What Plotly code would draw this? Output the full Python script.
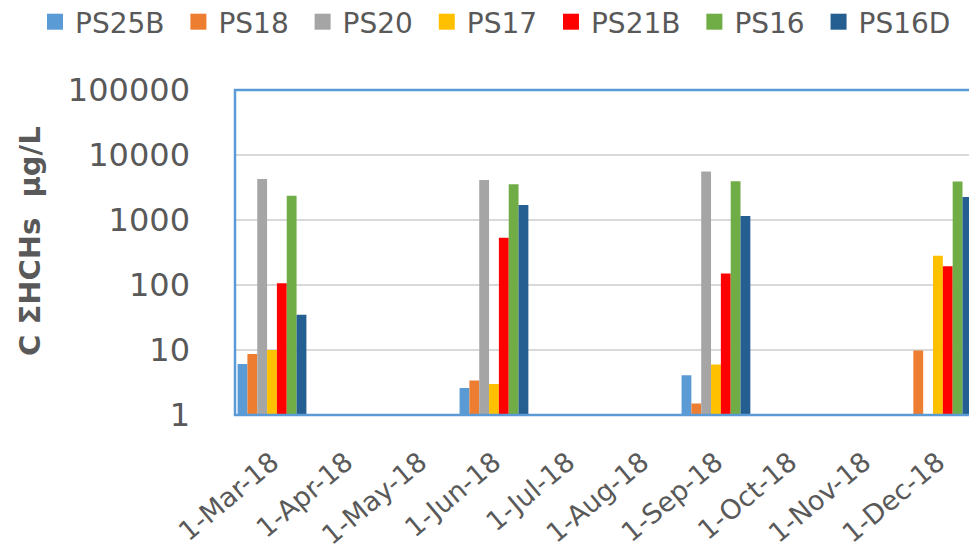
import plotly.graph_objects as go

# Sampling months (one category slot per month)
months = ["1-Mar-18", "1-Apr-18", "1-May-18", "1-Jun-18", "1-Jul-18",
          "1-Aug-18", "1-Sep-18", "1-Oct-18", "1-Nov-18", "1-Dec-18"]

# Sum of HCHs concentration (µg/L) per well; None = not sampled
ps25b = [6.1, None, None, 2.6, None, None, 4.1, None, None, None]
ps18 = [8.7, None, None, 3.4, None, None, 1.5, None, None, 9.8]
ps20 = [4270, None, None, 4120, None, None, 5560, None, None, None]
ps17 = [10, None, None, 3.0, None, None, 6.0, None, None, 283]
ps21b = [106, None, None, 535, None, None, 150, None, None, 194]
ps16 = [2370, None, None, 3540, None, None, 3940, None, None, 3900]
ps16d = [35, None, None, 1700, None, None, 1150, None, None, 2260]

series_names = ["PS25B", "PS18", "PS20", "PS17", "PS21B", "PS16", "PS16D"]
series_values = [ps25b, ps18, ps20, ps17, ps21b, ps16, ps16d]
colors = ["#5B9BD5", "#ED7D31", "#A5A5A5", "#FFC000", "#FF0000", "#70AD47", "#255E91"]

y_ticks = [1, 10, 100, 1000, 10000, 100000]

TEXT = "#595959"
FONT = "DejaVu Sans"

fig = go.Figure()
for name, vals, col in zip(series_names, series_values, colors):
    fig.add_trace(go.Bar(x=months, y=vals, name=name, marker_color=col,
                         marker_line_width=0, showlegend=False))
# legend entries with larger square swatches
for name, col in zip(series_names, colors):
    fig.add_trace(go.Scatter(x=[None], y=[None], mode="markers",
                             name=name + "\u00a0",
                             marker=dict(symbol="square", size=16, color=col),
                             showlegend=True))

fig.update_layout(
    width=969, height=553,
    margin=dict(l=235, r=0, t=90, b=138, autoexpand=False),
    paper_bgcolor="white", plot_bgcolor="white",
    barmode="group", bargap=0.07, bargroupgap=0,
    font=dict(family=FONT, color=TEXT),
    legend=dict(orientation="h", xref="paper", yref="paper",
                x=(35 - 235) / 734, xanchor="left",
                y=1 + 93 / 325, yanchor="top",
                font=dict(size=28, color=TEXT, family=FONT),
                itemwidth=30, tracegroupgap=0),
    xaxis=dict(type="category", categoryorder="array", categoryarray=months,
               range=[-0.5, 9.42], showgrid=False, showline=False,
               tickangle=-40, tickfont=dict(size=27, color=TEXT, family=FONT),
               ticks="", ticklabelstandoff=25),
    yaxis=dict(type="log", range=[0, 5], tickvals=y_ticks,
               ticktext=[str(v) for v in y_ticks],
               showgrid=True, gridcolor="#D9D9D9", gridwidth=1.5,
               zeroline=False, showline=False, ticks="",
               tickfont=dict(size=32, color=TEXT, family=FONT),
               ticklabelstandoff=44),
    shapes=[dict(type="rect", xref="paper", yref="paper", x0=0, x1=1.05,
                 y0=0, y1=1, line=dict(color="#5B9BD5", width=2.5),
                 layer="above")],
    annotations=[dict(text="<b>C ΣHCHs \u00a0µg/L</b>", xref="paper", yref="paper",
                      x=(30 - 235) / 734, y=(415 - 241) / 325, textangle=-90,
                      showarrow=False, xanchor="center", yanchor="middle",
                      font=dict(size=29, color=TEXT, family=FONT))],
)

fig.write_html("out.html")
